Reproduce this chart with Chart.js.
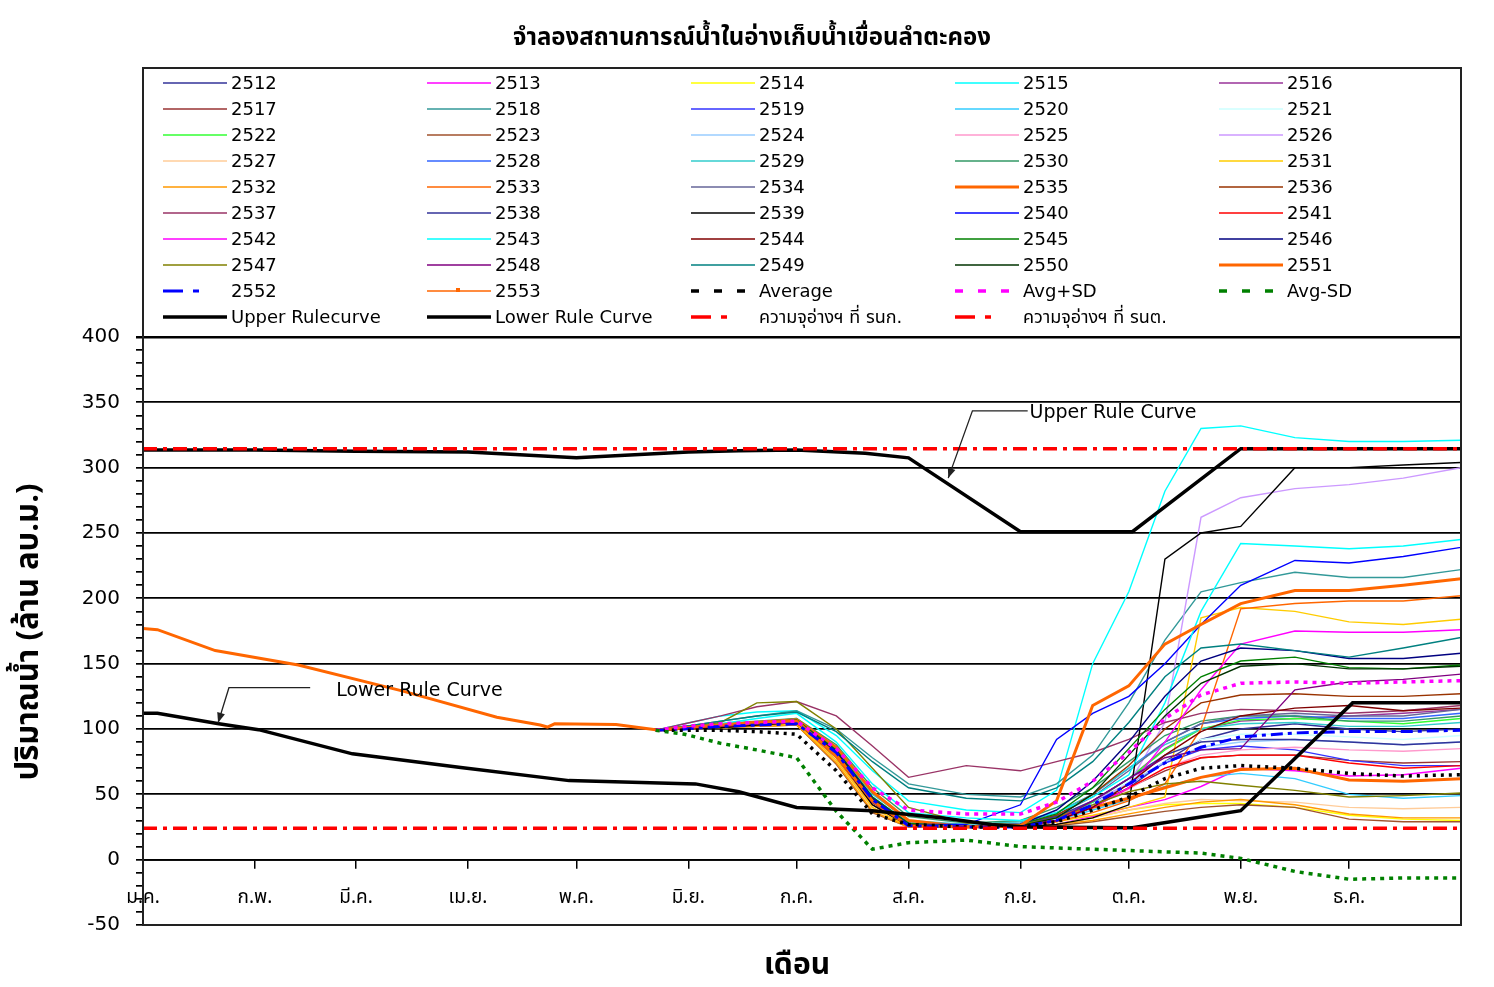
<!DOCTYPE html>
<html lang="th">
<head>
<meta charset="utf-8">
<title>จำลองสถานการณ์น้ำในอ่างเก็บน้ำเขื่อนลำตะคอง</title>
<script src="https://cdn.jsdelivr.net/npm/chart.js@4.4.0/dist/chart.umd.min.js"></script>
<style>
  html, body { margin: 0; padding: 0; background: #fff; }
  #wrap { width: 1494px; height: 987px; }
</style>
</head>
<body>
<div id="wrap"><canvas id="chart" width="1494" height="987"></canvas></div>
<script>
// --- axis labels ---
const monthLabels = ['ม.ค.', 'ก.พ.', 'มี.ค.', 'เม.ย.', 'พ.ค.', 'มิ.ย.', 'ก.ค.', 'ส.ค.', 'ก.ย.', 'ต.ค.', 'พ.ย.', 'ธ.ค.'];
const monthDays = [0, 31, 59, 90, 120, 151, 181, 212, 243, 273, 304, 334];
const yTicks = [-50, 0, 50, 100, 150, 200, 250, 300, 350, 400];

// --- simulated years (day of year, million m3) ---
const simDays = [142, 150, 160, 170, 181, 192, 202, 212, 228, 243, 253, 263, 273, 283, 293, 304, 319, 334, 349, 365];
const s2512 = [99, 100, 102, 104, 106, 82, 46, 27, 25, 26, 30, 40, 55, 75, 92, 100, 104, 100, 98, 100];
const s2513 = [99, 100, 102, 103, 104, 78, 42, 26, 25, 25, 27, 33, 40, 46, 56, 70, 68, 64, 65, 70];
const s2514 = [99, 100, 101, 102, 103, 74, 37, 25, 25, 25, 27, 32, 38, 42, 43, 43, 40, 34, 31, 30];
const s2515 = [99, 104, 110, 113, 114, 95, 68, 45, 38, 36, 53, 150, 205, 282, 330, 332, 323, 320, 320, 321];
const s2516 = [99, 101, 103, 104, 106, 82, 46, 27, 25, 27, 32, 45, 62, 85, 100, 106, 108, 110, 112, 115];
const s2517 = [99, 100, 102, 103, 105, 80, 45, 26, 25, 27, 32, 42, 55, 68, 78, 80, 80, 76, 74, 75];
const s2518 = [99, 102, 106, 110, 114, 100, 78, 58, 50, 48, 58, 80, 120, 168, 205, 212, 220, 216, 216, 222];
const s2519 = [99, 101, 103, 104, 106, 83, 47, 27, 25, 26, 32, 44, 58, 74, 84, 87, 84, 76, 72, 72];
const s2520 = [99, 101, 103, 105, 107, 84, 48, 28, 25, 26, 30, 38, 46, 56, 63, 66, 62, 50, 47, 49];
const s2521 = [99, 100, 101, 102, 104, 75, 38, 25, 25, 26, 30, 42, 60, 80, 92, 96, 96, 94, 92, 95];
const s2522 = [99, 101, 102, 104, 105, 78, 42, 26, 25, 26, 31, 44, 62, 84, 100, 107, 108, 106, 104, 108];
const s2523 = [99, 100, 101, 102, 103, 73, 36, 25, 25, 25, 26, 29, 33, 37, 40, 42, 40, 31, 29, 29];
const s2524 = [99, 101, 103, 104, 106, 82, 45, 27, 25, 27, 31, 42, 58, 75, 86, 90, 92, 90, 88, 90];
const s2525 = [99, 101, 102, 104, 105, 76, 40, 25, 25, 26, 30, 40, 54, 70, 80, 84, 86, 84, 83, 85];
const s2526 = [99, 101, 102, 104, 106, 82, 46, 27, 25, 27, 33, 45, 58, 105, 262, 277, 284, 287, 292, 300];
const s2527 = [99, 100, 101, 102, 104, 75, 38, 25, 25, 25, 27, 32, 38, 43, 46, 45, 44, 40, 39, 40];
const s2528 = [99, 101, 103, 105, 107, 84, 48, 28, 26, 28, 36, 50, 70, 90, 104, 108, 110, 108, 108, 112];
const s2529 = [99, 101, 103, 105, 108, 85, 50, 30, 27, 29, 36, 50, 70, 88, 100, 104, 105, 102, 102, 105];
const s2530 = [99, 102, 104, 106, 108, 88, 55, 33, 28, 30, 40, 55, 75, 95, 106, 110, 110, 106, 106, 110];
const s2531 = [99, 100, 101, 103, 104, 76, 40, 25, 25, 26, 29, 34, 40, 48, 185, 193, 190, 182, 180, 184];
const s2532 = [99, 100, 101, 102, 103, 74, 37, 25, 25, 25, 27, 30, 35, 40, 44, 46, 42, 35, 32, 32];
const s2533 = [99, 100, 102, 103, 105, 78, 42, 26, 25, 26, 29, 36, 45, 58, 100, 192, 196, 198, 198, 202];
const s2534 = [99, 101, 102, 104, 106, 82, 46, 27, 25, 27, 34, 48, 68, 90, 104, 110, 112, 110, 110, 115];
const s2535 = [99, 101, 103, 105, 107, 86, 52, 30, 25, 26, 33, 40, 47, 55, 63, 69, 70, 61, 60, 62];
const s2536 = [99, 101, 102, 104, 106, 82, 46, 27, 25, 27, 34, 50, 72, 100, 120, 126, 127, 125, 125, 127];
const s2537 = [99, 104, 110, 117, 121, 110, 87, 63, 72, 68, 75, 82, 92, 105, 112, 115, 114, 112, 114, 118];
const s2538 = [99, 101, 102, 104, 105, 80, 44, 26, 25, 27, 33, 45, 62, 80, 90, 92, 92, 90, 88, 90];
const s2539 = [99, 100, 101, 103, 105, 80, 42, 26, 25, 25, 27, 32, 42, 230, 250, 255, 300, 300, 302, 304];
const s2540 = [99, 101, 102, 104, 105, 80, 44, 27, 27, 42, 92, 112, 125, 150, 180, 210, 229, 227, 232, 239];
const s2541 = [99, 101, 102, 104, 105, 82, 46, 27, 25, 26, 30, 40, 55, 70, 78, 80, 80, 74, 70, 72];
const s2542 = [99, 101, 103, 105, 106, 82, 46, 27, 25, 26, 30, 40, 55, 90, 130, 165, 175, 174, 174, 176];
const s2543 = [99, 101, 104, 108, 112, 90, 58, 36, 32, 30, 36, 48, 65, 120, 190, 242, 240, 238, 240, 245];
const s2544 = [99, 100, 102, 104, 105, 80, 44, 26, 25, 26, 30, 40, 58, 80, 98, 110, 116, 118, 114, 116];
const s2545 = [99, 101, 103, 105, 107, 84, 48, 28, 25, 27, 35, 55, 85, 115, 140, 152, 155, 147, 146, 149];
const s2546 = [99, 101, 103, 105, 106, 83, 47, 27, 25, 27, 38, 60, 90, 125, 152, 162, 160, 154, 154, 158];
const s2547 = [99, 102, 105, 120, 121, 100, 70, 40, 28, 27, 32, 42, 52, 58, 60, 57, 53, 48, 49, 51];
const s2548 = [99, 101, 102, 104, 105, 80, 44, 26, 25, 26, 30, 45, 62, 78, 84, 85, 130, 136, 138, 142];
const s2549 = [99, 102, 106, 110, 113, 98, 75, 55, 47, 45, 55, 75, 105, 140, 162, 165, 160, 155, 162, 170];
const s2550 = [99, 101, 103, 104, 106, 82, 46, 27, 25, 26, 32, 50, 80, 110, 135, 148, 150, 146, 146, 148];
const s2551 = [99, 101, 103, 105, 106, 80, 45, 26, 25, 26, 45, 118, 133, 165, 180, 196, 206, 206, 210, 215];
const s2552 = [99, 100, 102, 103, 104, 82, 46, 26, 25, 25, 30, 42, 58, 74, 86, 94, 97, 98, 98, 99];

const avgValues = [99, 99, 99, 98, 96, 68, 35, 27, 25, 25, 29, 38, 48, 62, 70, 72, 70, 66, 64, 65];
const avgPlusSd = [99, 102, 104, 105, 106, 85, 55, 38, 35, 35, 44, 60, 82, 108, 126, 135, 136, 135, 136, 137];
const avgMinusSd = [99, 96, 89, 84, 78, 37, 8, 13, 15, 10, 9, 8, 7, 6, 5, 1, -9, -15, -14, -14];

// --- observed 2553 ---
const obsDays = [0, 4, 20, 43, 72, 98, 110, 112, 114, 131, 143];
const obs2553 = [177, 176, 160, 149, 129, 109, 103, 101.5, 104, 103.5, 99];

// --- rule curves and storage limits ---
const upperDays = [0, 31, 59, 90, 120, 151, 165, 181, 200, 212, 243, 274, 304, 365];
const upperRule = [313.5, 313.5, 312.5, 312, 307.5, 312, 313, 313.5, 311, 307.5, 251, 251, 314.5, 314.5];
const lowerDays = [0, 4, 21, 32, 58, 88, 118, 138, 153, 165, 181, 202, 221, 235, 244, 274, 289, 304, 335, 365];
const lowerRule = [112, 112, 104, 99.5, 81, 70.5, 60.5, 59, 58, 52, 40, 37.5, 32, 27, 25, 24.5, 31, 37.5, 120, 120];
const capacityMax = 314.49;
const capacityMin = 24;

const years = ['2512', '2513', '2514', '2515', '2516', '2517', '2518', '2519', '2520', '2521',
  '2522', '2523', '2524', '2525', '2526', '2527', '2528', '2529', '2530', '2531',
  '2532', '2533', '2534', '2535', '2536', '2537', '2538', '2539', '2540', '2541',
  '2542', '2543', '2544', '2545', '2546', '2547', '2548', '2549', '2550', '2551', '2552'];
const yearSeries = [s2512, s2513, s2514, s2515, s2516, s2517, s2518, s2519, s2520, s2521,
  s2522, s2523, s2524, s2525, s2526, s2527, s2528, s2529, s2530, s2531,
  s2532, s2533, s2534, s2535, s2536, s2537, s2538, s2539, s2540, s2541,
  s2542, s2543, s2544, s2545, s2546, s2547, s2548, s2549, s2550, s2551, s2552];
const yearColors = ['#333399', '#FF00FF', '#FFFF00', '#00FFFF', '#993399', '#993333', '#339999', '#3333FF', '#33CCFF', '#CCFFFF',
  '#33FF33', '#A0522D', '#99CCFF', '#FF99CC', '#CC99FF', '#FFCC99', '#3366FF', '#33CCCC', '#339966', '#FFCC00',
  '#FF9900', '#FF6600', '#666699', '#FF6600', '#993300', '#993366', '#333399', '#000000', '#0000FF', '#FF0000',
  '#FF00FF', '#00FFFF', '#800000', '#008000', '#000080', '#808000', '#800080', '#008080', '#003300', '#FF6600', '#0000FF'];
const thickYears = ['2535', '2551', '2552'];

const THAI = "Tahoma, 'Noto Sans Thai', 'Noto Sans Thai UI', Loma, Garuda, 'DejaVu Sans', sans-serif";
const LATIN = "'DejaVu Sans', Tahoma, 'Noto Sans Thai', sans-serif";

const pts = (xs, ys) => xs.map((x, i) => ({ x: x, y: ys[i] }));
const flat = v => [{ x: 0, y: v }, { x: 365, y: v }];

const datasets = [];
years.forEach((yr, i) => {
    datasets.push({
        label: yr,
        data: pts(simDays, yearSeries[i]),
        borderColor: yearColors[i],
        borderWidth: thickYears.includes(yr) ? 3 : 1.4,
        borderDash: yr === '2552' ? [12, 5, 4, 5] : [],
        legendDash: yr === '2552' ? [20, 10, 6, 100] : null
    });
});
datasets.push({ label: '2553', data: pts(obsDays, obs2553), borderColor: '#FF6600', borderWidth: 3, legendWidth: 1.5, legendMarker: true });
datasets.push({ label: 'Average', data: pts(simDays, avgValues), borderColor: '#000000', borderWidth: 3.5, borderDash: [3, 5], legendDash: [8, 15] });
datasets.push({ label: 'Avg+SD', data: pts(simDays, avgPlusSd), borderColor: '#FF00FF', borderWidth: 3.5, borderDash: [4, 5], legendDash: [8, 15] });
datasets.push({ label: 'Avg-SD', data: pts(simDays, avgMinusSd), borderColor: '#008000', borderWidth: 3.5, borderDash: [4, 5], legendDash: [8, 15] });
datasets.push({ label: 'Upper Rulecurve', data: pts(upperDays, upperRule), borderColor: '#000000', borderWidth: 3.5 });
datasets.push({ label: 'Lower Rule Curve', data: pts(lowerDays, lowerRule), borderColor: '#000000', borderWidth: 3.5 });
datasets.push({ label: 'ความจุอ่างฯ ที่ รนก.', data: flat(capacityMax), borderColor: '#FF0000', borderWidth: 3.5, borderDash: [14, 6, 4, 6], legendDash: [20, 10, 6, 100] });
datasets.push({ label: 'ความจุอ่างฯ ที่ รนต.', data: flat(capacityMin), borderColor: '#FF0000', borderWidth: 3.5, borderDash: [14, 6, 4, 6], legendDash: [20, 10, 6, 100] });

// later series sit on top, as in the original workbook
datasets.forEach((ds, i) => {
    ds.order = -i;
    ds.pointRadius = 0;
    ds.tension = 0;
    ds.fill = false;
});

// --- title, legend, callouts, frame ---
function callout(ctx, xs, ys, tip, elbow, lineEnd, text, textPos) {
    const tx = xs.getPixelForValue(tip[0]), ty = ys.getPixelForValue(tip[1]);
    const ex = xs.getPixelForValue(elbow[0]), ey = ys.getPixelForValue(elbow[1]);
    const lx = xs.getPixelForValue(lineEnd), px = xs.getPixelForValue(textPos[0]), py = ys.getPixelForValue(textPos[1]);
    ctx.strokeStyle = '#222';
    ctx.lineWidth = 1.3;
    ctx.setLineDash([]);
    ctx.beginPath();
    ctx.moveTo(lx, ey);
    ctx.lineTo(ex, ey);
    ctx.lineTo(tx, ty);
    ctx.stroke();
    const ang = Math.atan2(ty - ey, tx - ex);
    ctx.fillStyle = '#222';
    ctx.beginPath();
    ctx.moveTo(tx, ty);
    ctx.lineTo(tx - 10 * Math.cos(ang) + 4 * Math.sin(ang), ty - 10 * Math.sin(ang) - 4 * Math.cos(ang));
    ctx.lineTo(tx - 10 * Math.cos(ang) - 4 * Math.sin(ang), ty - 10 * Math.sin(ang) + 4 * Math.cos(ang));
    ctx.closePath();
    ctx.fill();
    ctx.fillStyle = '#000';
    ctx.font = "19px " + LATIN;
    ctx.textAlign = 'left';
    ctx.textBaseline = 'middle';
    ctx.fillText(text, px, py);
}

const decorations = {
    id: 'decorations',
    afterDatasetsDraw(chart) {
        const ctx = chart.ctx, xs = chart.scales.x, ys = chart.scales.y;
        ctx.save();
        callout(ctx, xs, ys, [223, 292], [229.7, 343.5], 245, 'Upper Rule Curve', [245.5, 342]);
        callout(ctx, xs, ys, [20.8, 104.8], [23.8, 131.6], 46.3, 'Lower Rule Curve', [53.5, 129.3]);
        ctx.restore();
    },
    afterDraw(chart) {
        const ctx = chart.ctx, area = chart.chartArea;
        ctx.save();

        // frame round legend and plot
        ctx.strokeStyle = '#222';
        ctx.lineWidth = 2;
        ctx.setLineDash([]);
        ctx.strokeRect(area.left, 68, area.right - area.left, area.bottom - 68);

        // title
        ctx.fillStyle = '#000';
        ctx.textAlign = 'center';
        ctx.textBaseline = 'middle';
        ctx.font = "bold 24px " + THAI;
        ctx.fillText('จำลองสถานการณ์น้ำในอ่างเก็บน้ำเขื่อนลำตะคอง', 752, 40);

        // axis titles
        ctx.font = "bold 30px " + THAI;
        ctx.fillText('เดือน', 797, 968);
        ctx.save();
        ctx.translate(32, 632);
        ctx.rotate(-Math.PI / 2);
        ctx.font = "bold 31px " + THAI;
        ctx.fillText('ปริมาณน้ำ (ล้าน ลบ.ม.)', 0, 0);
        ctx.restore();

        // legend, five columns
        chart.data.datasets.forEach((ds, i) => {
            const col = i % 5, row = Math.floor(i / 5);
            const x0 = 163 + col * 264, y = 83 + row * 26;
            ctx.beginPath();
            ctx.strokeStyle = ds.borderColor;
            ctx.lineWidth = ds.legendWidth || ds.borderWidth;
            ctx.setLineDash(ds.legendDash || []);
            ctx.moveTo(x0, y);
            ctx.lineTo(x0 + (ds.legendDash ? 56 : 64), y);
            ctx.stroke();
            ctx.setLineDash([]);
            if (ds.legendMarker) {
                ctx.fillStyle = ds.borderColor;
                ctx.fillRect(x0 + 29, y - 3, 4, 4);
            }
            ctx.fillStyle = '#000';
            ctx.textAlign = 'left';
            ctx.textBaseline = 'middle';
            ctx.font = "18px " + LATIN;
            ctx.fillText(ds.label, x0 + 68, y + 1);
        });
        ctx.restore();
    }
};

new Chart(document.getElementById('chart').getContext('2d'), {
    type: 'line',
    data: { datasets: datasets },
    options: {
        responsive: false,
        animation: false,
        devicePixelRatio: 1,
        layout: { padding: { top: 337, right: 33, bottom: 62, left: 0 } },
        plugins: { legend: { display: false }, tooltip: { enabled: false } },
        scales: {
            x: {
                type: 'linear',
                min: 0,
                max: 365,
                position: { y: 0 },
                afterBuildTicks: s => { s.ticks = monthDays.map(v => ({ value: v })); },
                ticks: {
                    autoSkip: false,
                    maxRotation: 0,
                    padding: 20,
                    color: '#000',
                    font: { family: THAI, size: 19 },
                    callback: (v, i) => monthLabels[i]
                },
                grid: { drawOnChartArea: false, color: '#000', tickLength: 8, lineWidth: 1.5 },
                border: { color: '#000', width: 1.8 }
            },
            y: {
                type: 'linear',
                min: -50,
                max: 400,
                afterBuildTicks: s => {
                    const t = [];
                    for (let v = -50; v <= 400; v += 10) t.push({ value: v });
                    s.ticks = t;
                },
                afterFit: s => { s.width = 143; },
                ticks: {
                    autoSkip: false,
                    padding: 16,
                    color: '#000',
                    font: { family: LATIN, size: 20 },
                    callback: v => (yTicks.includes(v) ? String(v) : '')
                },
                grid: {
                    color: c => (c.tick && yTicks.includes(c.tick.value) ? '#000' : 'rgba(0,0,0,0)'),
                    tickColor: '#000',
                    lineWidth: c => (c.tick && c.tick.value === 400 ? 2.5 : 1.7),
                    tickLength: 7
                },
                border: { color: '#000', width: 2 }
            }
        }
    },
    plugins: [decorations]
});
</script>
</body>
</html>
